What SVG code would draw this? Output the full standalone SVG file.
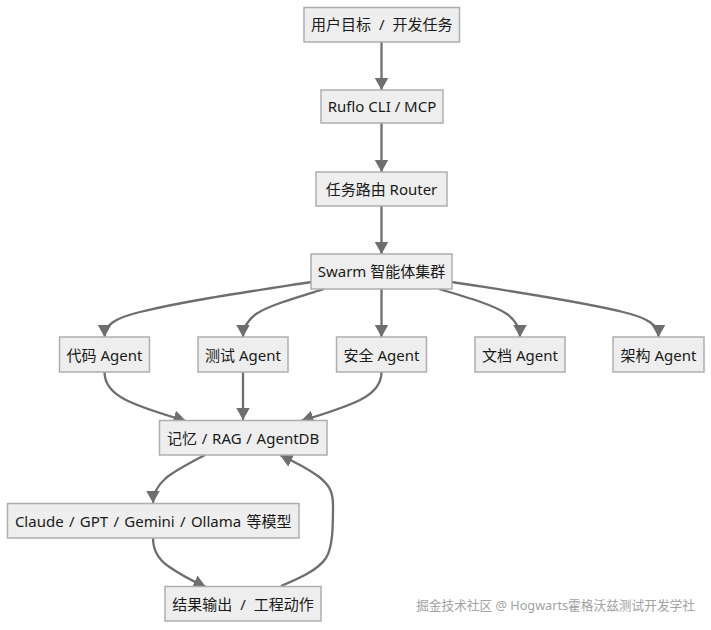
<svg xmlns="http://www.w3.org/2000/svg" width="711" height="630" viewBox="0 0 711 630">
<style>
.n{fill:#eeeeee;stroke:#aeaeae;stroke-width:1.5}
.t{font-family:"Noto Sans","Noto Sans CJK SC",sans-serif;font-size:15px;fill:#1a1a1a;text-anchor:middle}
.s{word-spacing:4px}
.m{word-spacing:1.400px}
.k{word-spacing:.8px}
.e{fill:none;stroke:#6e6e6e;stroke-width:2.300}
.w{font-family:"Noto Sans","Noto Sans CJK SC",sans-serif;font-size:12.700px;fill:#a2a2a2;text-anchor:end}
</style>
<defs><marker id="a" markerUnits="userSpaceOnUse" markerWidth="15" markerHeight="15" refX="12.500" refY="7.500" orient="auto"><path d="M0 .5L12.500 7.500L0 14.500z" fill="#6e6e6e"/></marker></defs>
<rect width="711" height="630" fill="#fff"/>
<g id="connectors">
<path class="e" marker-end="url(#a)" d="M381.500 42V90"/>
<path class="e" marker-end="url(#a)" d="M381.500 123V172"/>
<path class="e" marker-end="url(#a)" d="M381.500 206V254"/>
<path class="e" marker-end="url(#a)" d="M311 282C240 293 185 301 140 312C115 318 104.500 325 104.500 337"/>
<path class="e" marker-end="url(#a)" d="M324 289C295 298 270 305 256 314C248 320 243 327 243 337"/>
<path class="e" marker-end="url(#a)" d="M381.500 289V337"/>
<path class="e" marker-end="url(#a)" d="M439 289C470 298 493 305 507 314C515 320 520 327 520 337"/>
<path class="e" marker-end="url(#a)" d="M452 282C522 293 578 301 623 312C648 318 658.500 325 658.500 337"/>
<path class="e" marker-end="url(#a)" d="M104.500 372C104.500 384 112 393 126 400C142 408 162 414 186 421"/>
<path class="e" marker-end="url(#a)" d="M243 372V420"/>
<path class="e" marker-end="url(#a)" d="M381.500 372C381.500 384 374 393 360 400C344 408 324 414 301 421"/>
<path class="e" marker-end="url(#a)" d="M205 455C190 463 176 470 166 478C158 485 153 493 153 503"/>
<path class="e" marker-end="url(#a)" d="M153 538C153 550 158 559 168 566C178 573 190 580 206 587"/>
<path class="e" marker-end="url(#a)" d="M281 586C300 578 318 570 326 558C333 547 333 525 333 505C333 490 328 484 318 476C308 469 295 462 280 455"/>
</g>
<g id="n1"><rect class="n" x="304" y="7.500" width="155.500" height="34.500"/><text class="t s" x="381.700" y="30">用户目标 / 开发任务</text></g>
<g id="n2"><rect class="n" x="321" y="90" width="122" height="33"/><text class="t" x="382" y="112">Ruflo CLI / MCP</text></g>
<g id="n3"><rect class="n" x="316" y="172" width="131" height="34"/><text class="t" x="381.500" y="195">任务路由 Router</text></g>
<g id="n4"><rect class="n" x="311" y="254" width="141" height="35"/><text class="t" x="381.500" y="277">Swarm 智能体集群</text></g>
<g id="a1"><rect class="n" x="59.500" y="337" width="90" height="35"/><text class="t" x="104.500" y="361">代码 Agent</text></g>
<g id="a2"><rect class="n" x="198" y="337" width="90" height="35"/><text class="t" x="243" y="361">测试 Agent</text></g>
<g id="a3"><rect class="n" x="336.500" y="337" width="90" height="35"/><text class="t" x="381.500" y="361">安全 Agent</text></g>
<g id="a4"><rect class="n" x="475" y="337" width="90" height="35"/><text class="t" x="520" y="361">文档 Agent</text></g>
<g id="a5"><rect class="n" x="613" y="337" width="91" height="35"/><text class="t" x="658.500" y="361">架构 Agent</text></g>
<g id="mem"><rect class="n" x="159.500" y="420.500" width="167.500" height="34.500"/><text class="t k" x="243.200" y="444">记忆 / RAG / AgentDB</text></g>
<g id="models"><rect class="n" x="7.500" y="503.500" width="291.500" height="34.500"/><text class="t m" x="153.200" y="527">Claude / GPT / Gemini / Ollama 等模型</text></g>
<g id="res"><rect class="n" x="165" y="586.500" width="156" height="34.500"/><text class="t s" x="243" y="610">结果输出 / 工程动作</text></g>
<text class="w" x="695" y="610">掘金技术社区 @ Hogwarts霍格沃兹测试开发学社</text>
</svg>
